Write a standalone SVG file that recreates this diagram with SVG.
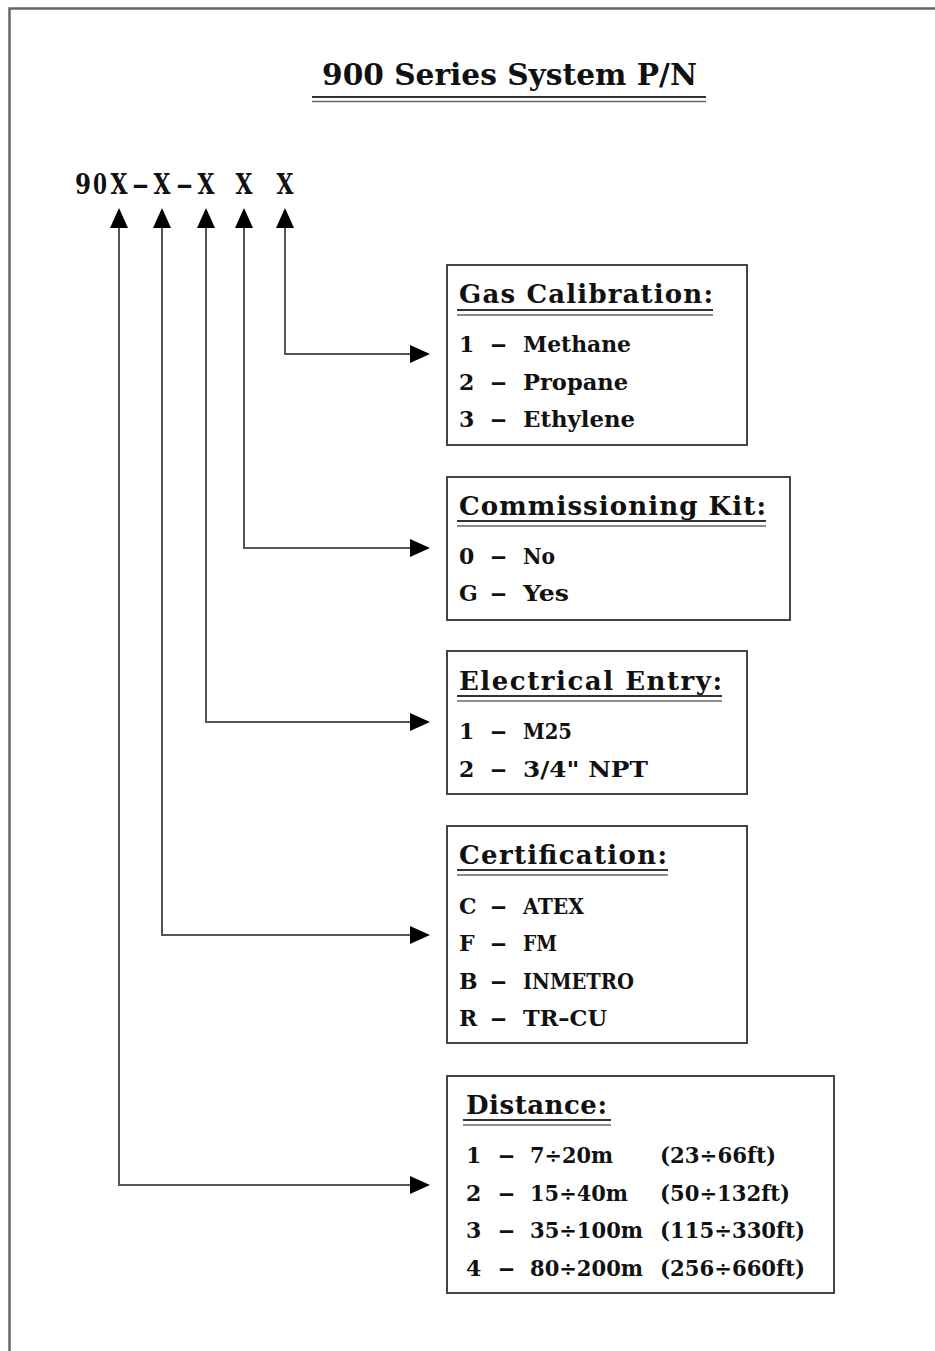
<svg xmlns="http://www.w3.org/2000/svg" width="935" height="1351" viewBox="0 0 935 1351">
<style>
.frame{fill:none;stroke:#666;stroke-width:2.5}
.box{fill:#fff;stroke:#444;stroke-width:2}
.ttl{font-family:"DejaVu Serif","Liberation Serif",serif;font-weight:bold;fill:#111}
.hd{font-family:"DejaVu Serif","Liberation Serif",serif;font-weight:bold;font-size:26px;fill:#111}
.it{font-family:"DejaVu Serif","Liberation Serif",serif;font-weight:bold;font-size:22px;fill:#111}
.ul1{stroke:#333;stroke-width:2}
.ul2{stroke:#666;stroke-width:1.5}
.conn{fill:none;stroke:#555;stroke-width:2}
</style>
<defs>
<marker id="ah" markerUnits="userSpaceOnUse" markerWidth="20" markerHeight="20" viewBox="0 0 20 18" refX="0" refY="9" orient="auto-start-reverse">
<path d="M0,0 L20,9 L0,18 Z" fill="#000"/>
</marker>
</defs>
<rect width="935" height="1351" fill="#fff"/>
<path class="frame" d="M9.5,1351 L9.5,8.5 L935,8.5"/>
<g id="title">
<text class="ttl" x="322" y="85" font-size="29" textLength="375" lengthAdjust="spacingAndGlyphs">900 Series System P/N</text>
<line class="ul1" x1="312" y1="97" x2="706" y2="97"/>
<line class="ul2" x1="312" y1="101.5" x2="706" y2="101.5"/>
</g>
<g id="part-number">
<text class="ttl" font-size="27" y="194"><tspan x="75" textLength="16" lengthAdjust="spacingAndGlyphs">9</tspan><tspan x="93" textLength="14" lengthAdjust="spacingAndGlyphs">0</tspan><tspan x="110.5" textLength="17" lengthAdjust="spacingAndGlyphs">X</tspan><tspan x="132" textLength="17" lengthAdjust="spacingAndGlyphs">–</tspan><tspan x="153.5" textLength="17" lengthAdjust="spacingAndGlyphs">X</tspan><tspan x="176" textLength="17" lengthAdjust="spacingAndGlyphs">–</tspan><tspan x="197.5" textLength="17" lengthAdjust="spacingAndGlyphs">X</tspan><tspan x="235.5" textLength="17" lengthAdjust="spacingAndGlyphs">X</tspan><tspan x="276.5" textLength="17" lengthAdjust="spacingAndGlyphs">X</tspan></text>
</g>
<g id="connectors">
<path class="conn" marker-start="url(#ah)" marker-end="url(#ah)" d="M285,228 L285,354 L410,354"/>
<path class="conn" marker-start="url(#ah)" marker-end="url(#ah)" d="M244,228 L244,548 L410,548"/>
<path class="conn" marker-start="url(#ah)" marker-end="url(#ah)" d="M206,228 L206,722 L410,722"/>
<path class="conn" marker-start="url(#ah)" marker-end="url(#ah)" d="M162,228 L162,935 L410,935"/>
<path class="conn" marker-start="url(#ah)" marker-end="url(#ah)" d="M119,228 L119,1185 L410,1185"/>
</g>
<g id="gas-calibration">
<rect class="box" x="447" y="265" width="300" height="180"/>
<text class="hd" x="459" y="303" textLength="254">Gas Calibration:</text>
<line class="ul1" x1="457" y1="310" x2="713" y2="310"/>
<line class="ul2" x1="457" y1="315" x2="713" y2="315"/>
<text class="it" y="352"><tspan x="459">1</tspan><tspan x="490" textLength="17" lengthAdjust="spacingAndGlyphs">–</tspan><tspan x="523" textLength="108" lengthAdjust="spacingAndGlyphs">Methane</tspan></text>
<text class="it" y="390"><tspan x="459">2</tspan><tspan x="490" textLength="17" lengthAdjust="spacingAndGlyphs">–</tspan><tspan x="523" textLength="105" lengthAdjust="spacingAndGlyphs">Propane</tspan></text>
<text class="it" y="427"><tspan x="459">3</tspan><tspan x="490" textLength="17" lengthAdjust="spacingAndGlyphs">–</tspan><tspan x="523" textLength="112" lengthAdjust="spacingAndGlyphs">Ethylene</tspan></text>
</g>
<g id="commissioning-kit">
<rect class="box" x="447" y="477" width="343" height="143"/>
<text class="hd" x="459" y="515" textLength="307">Commissioning Kit:</text>
<line class="ul1" x1="457" y1="521" x2="766" y2="521"/>
<line class="ul2" x1="457" y1="526" x2="766" y2="526"/>
<text class="it" y="564"><tspan x="459">0</tspan><tspan x="490" textLength="17" lengthAdjust="spacingAndGlyphs">–</tspan><tspan x="523" textLength="32" lengthAdjust="spacingAndGlyphs">No</tspan></text>
<text class="it" y="601"><tspan x="459">G</tspan><tspan x="490" textLength="17" lengthAdjust="spacingAndGlyphs">–</tspan><tspan x="523" textLength="46" lengthAdjust="spacingAndGlyphs">Yes</tspan></text>
</g>
<g id="electrical-entry">
<rect class="box" x="447" y="651" width="300" height="143"/>
<text class="hd" x="459" y="690" textLength="263">Electrical Entry:</text>
<line class="ul1" x1="457" y1="696" x2="722" y2="696"/>
<line class="ul2" x1="457" y1="701" x2="722" y2="701"/>
<text class="it" y="739"><tspan x="459">1</tspan><tspan x="490" textLength="17" lengthAdjust="spacingAndGlyphs">–</tspan><tspan x="523" textLength="49" lengthAdjust="spacingAndGlyphs">M25</tspan></text>
<text class="it" y="777"><tspan x="459">2</tspan><tspan x="490" textLength="17" lengthAdjust="spacingAndGlyphs">–</tspan><tspan x="523" textLength="125" lengthAdjust="spacingAndGlyphs">3/4" NPT</tspan></text>
</g>
<g id="certification">
<rect class="box" x="447" y="826" width="300" height="217"/>
<text class="hd" x="459" y="864" textLength="208">Certification:</text>
<line class="ul1" x1="457" y1="870" x2="668" y2="870"/>
<line class="ul2" x1="457" y1="875" x2="668" y2="875"/>
<text class="it" y="914"><tspan x="459">C</tspan><tspan x="490" textLength="17" lengthAdjust="spacingAndGlyphs">–</tspan><tspan x="523" textLength="61" lengthAdjust="spacingAndGlyphs">ATEX</tspan></text>
<text class="it" y="951"><tspan x="459">F</tspan><tspan x="490" textLength="17" lengthAdjust="spacingAndGlyphs">–</tspan><tspan x="523" textLength="34" lengthAdjust="spacingAndGlyphs">FM</tspan></text>
<text class="it" y="989"><tspan x="459">B</tspan><tspan x="490" textLength="17" lengthAdjust="spacingAndGlyphs">–</tspan><tspan x="523" textLength="111" lengthAdjust="spacingAndGlyphs">INMETRO</tspan></text>
<text class="it" y="1026"><tspan x="459">R</tspan><tspan x="490" textLength="17" lengthAdjust="spacingAndGlyphs">–</tspan><tspan x="523" textLength="84" lengthAdjust="spacingAndGlyphs">TR–CU</tspan></text>
</g>
<g id="distance">
<rect class="box" x="447" y="1076" width="387" height="217"/>
<text class="hd" x="466" y="1114" textLength="141">Distance:</text>
<line class="ul1" x1="463" y1="1120" x2="611" y2="1120"/>
<line class="ul2" x1="463" y1="1125" x2="611" y2="1125"/>
<text class="it" y="1163"><tspan x="466">1</tspan><tspan x="498" textLength="17" lengthAdjust="spacingAndGlyphs">–</tspan><tspan x="530" textLength="83" lengthAdjust="spacingAndGlyphs">7÷20m</tspan><tspan x="660" textLength="116" lengthAdjust="spacingAndGlyphs">(23÷66ft)</tspan></text>
<text class="it" y="1201"><tspan x="466">2</tspan><tspan x="498" textLength="17" lengthAdjust="spacingAndGlyphs">–</tspan><tspan x="530" textLength="98" lengthAdjust="spacingAndGlyphs">15÷40m</tspan><tspan x="660" textLength="130" lengthAdjust="spacingAndGlyphs">(50÷132ft)</tspan></text>
<text class="it" y="1238"><tspan x="466">3</tspan><tspan x="498" textLength="17" lengthAdjust="spacingAndGlyphs">–</tspan><tspan x="530" textLength="113" lengthAdjust="spacingAndGlyphs">35÷100m</tspan><tspan x="660" textLength="145" lengthAdjust="spacingAndGlyphs">(115÷330ft)</tspan></text>
<text class="it" y="1276"><tspan x="466">4</tspan><tspan x="498" textLength="17" lengthAdjust="spacingAndGlyphs">–</tspan><tspan x="530" textLength="113" lengthAdjust="spacingAndGlyphs">80÷200m</tspan><tspan x="660" textLength="145" lengthAdjust="spacingAndGlyphs">(256÷660ft)</tspan></text>
</g>
</svg>
